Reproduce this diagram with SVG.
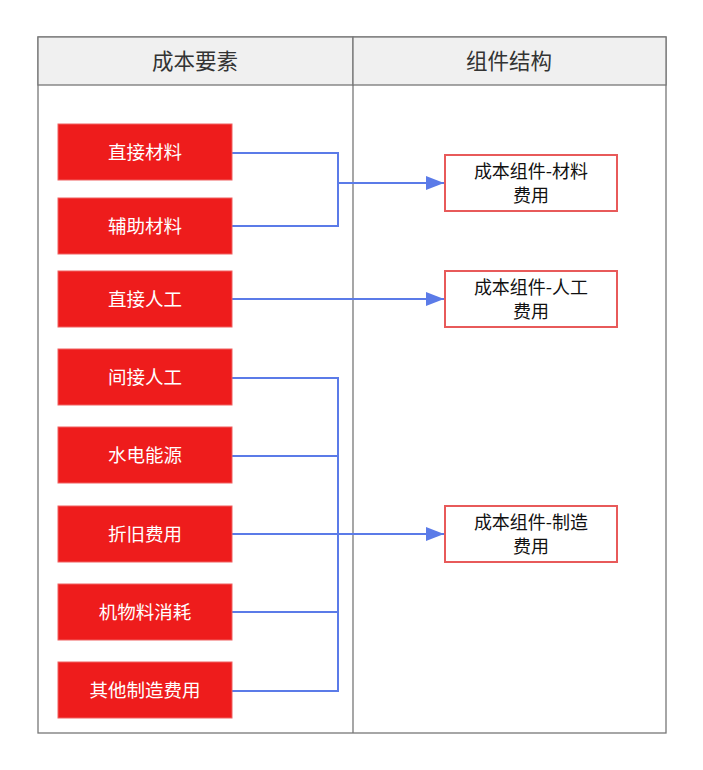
<svg xmlns="http://www.w3.org/2000/svg" width="703" height="770" viewBox="0 0 703 770">
<style>
.frame{fill:#fff;stroke:#777;stroke-width:1.3}
.hdr{fill:#f0f0f0;stroke:#777;stroke-width:1.3}
.ht{font-family:"Noto Sans CJK SC",sans-serif;font-size:21.5px;fill:#333;text-anchor:middle}
.src rect{fill:#ee1c1c;stroke:#f06060;stroke-width:1}
.src text{font-family:"Noto Sans CJK SC",sans-serif;font-size:18.5px;fill:#fff;text-anchor:middle}
.dst rect{fill:#fff;stroke:#e85a5a;stroke-width:2}
.dst text{font-family:"Noto Sans CJK SC",sans-serif;font-size:18px;fill:#111;text-anchor:middle}
.c path{fill:none;stroke:#5b7be8;stroke-width:2}
</style>
<defs>
<marker id="arr" markerWidth="18" markerHeight="14" refX="18" refY="7" orient="auto" markerUnits="userSpaceOnUse" viewBox="0 0 18 14">
<path d="M0,0 L18,7 L0,14 Z" fill="#5b7be8"/>
</marker>
</defs>
<g id="frame">
<rect class="frame" x="38" y="37" width="628" height="696"/>
<rect class="hdr" x="38" y="37" width="315" height="48"/>
<rect class="hdr" x="353" y="37" width="313" height="48"/>
<line x1="353" y1="85" x2="353" y2="733" stroke="#777" stroke-width="1.3"/>
<text class="ht" x="195" y="69">成本要素</text>
<text class="ht" x="509" y="69">组件结构</text>
</g>
<g id="connectors" class="c">
<path d="M232,153 H338 V226 H232"/>
<path d="M338,183 H444" marker-end="url(#arr)"/>
<path d="M232,299 H444" marker-end="url(#arr)"/>
<path d="M232,378 H338 V691 H232"/>
<path d="M232,456 H338"/>
<path d="M232,612 H338"/>
<path d="M232,534 H444" marker-end="url(#arr)"/>
</g>
<g id="n1" class="src"><rect x="58" y="124" width="174" height="56"/><text x="145" y="159">直接材料</text></g>
<g id="n2" class="src"><rect x="58" y="198" width="174" height="56"/><text x="145" y="233">辅助材料</text></g>
<g id="n3" class="src"><rect x="58" y="271" width="174" height="56"/><text x="145" y="306">直接人工</text></g>
<g id="n4" class="src"><rect x="58" y="349" width="174" height="56"/><text x="145" y="384">间接人工</text></g>
<g id="n5" class="src"><rect x="58" y="427" width="174" height="56"/><text x="145" y="462">水电能源</text></g>
<g id="n6" class="src"><rect x="58" y="506" width="174" height="56"/><text x="145" y="541">折旧费用</text></g>
<g id="n7" class="src"><rect x="58" y="584" width="174" height="56"/><text x="145" y="619">机物料消耗</text></g>
<g id="n8" class="src"><rect x="58" y="662" width="174" height="56"/><text x="145" y="697">其他制造费用</text></g>
<g id="d1" class="dst"><rect x="445" y="155" width="172" height="56"/><text x="531" y="178">成本组件-材料</text><text x="531" y="202">费用</text></g>
<g id="d2" class="dst"><rect x="445" y="271" width="172" height="56"/><text x="531" y="294">成本组件-人工</text><text x="531" y="318">费用</text></g>
<g id="d3" class="dst"><rect x="445" y="506" width="172" height="56"/><text x="531" y="529">成本组件-制造</text><text x="531" y="553">费用</text></g>
</svg>
